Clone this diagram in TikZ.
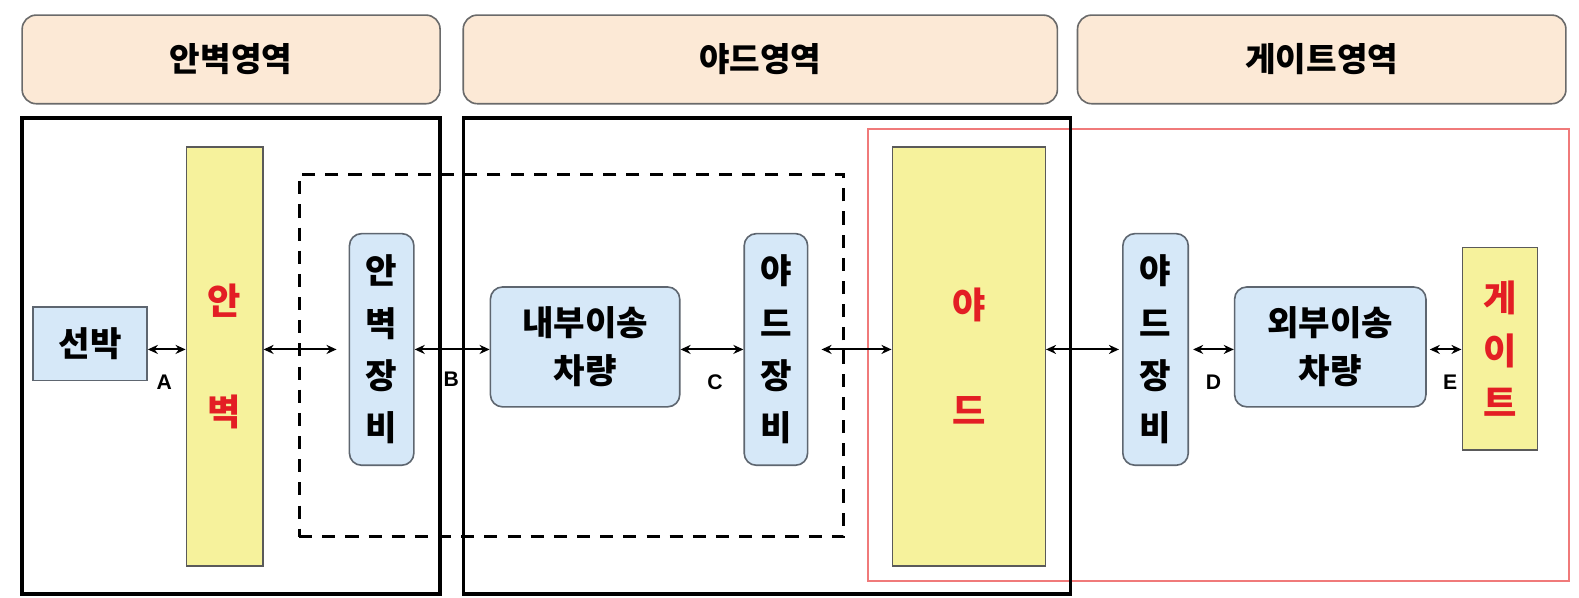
\documentclass[tikz,border=0pt]{standalone}
\usepackage{fontspec}
\newfontfamily\kr{Noto Sans CJK KR}
\newfontfamily\lab{Liberation Sans}
\usetikzlibrary{arrows.meta,calc}
\definecolor{peach}{HTML}{FCE9D6}
\definecolor{peachbd}{HTML}{6A6A6A}
\definecolor{lblue}{HTML}{D6E8F8}
\definecolor{bluebd}{HTML}{5E6670}
\definecolor{yel}{HTML}{F6F29C}
\definecolor{yelbd}{HTML}{5A5A5A}
\definecolor{redtxt}{HTML}{E31E24}
\definecolor{redbox}{HTML}{F07A7A}
\tikzset{
  hdr/.style={draw=peachbd, line width=1.6pt, fill=peach, rounded corners=14pt, inner sep=0pt,
    font=\kr\bfseries\fontsize{33}{36}\selectfont},
  bluebox/.style={draw=bluebd, line width=1.6pt, fill=lblue, rounded corners=12pt, inner sep=0pt, align=center,
    font=\kr\bfseries\fontsize{34}{48}\selectfont},
  vbox/.style={bluebox, font=\kr\bfseries\fontsize{34}{52}\selectfont},
  ybar/.style={draw=yelbd, line width=1.4pt, fill=yel, inner sep=0pt, align=center, text=redtxt},
  region/.style={draw=black, line width=3.4pt, inner sep=0pt},
  dashbox/.style={draw=black, line width=3pt, dash pattern=on 13pt off 10pt, inner sep=0pt},
  redregion/.style={draw=redbox, line width=1.5pt, inner sep=0pt},
  arr/.style={{Stealth[length=10pt,width=9pt]}-{Stealth[length=10pt,width=9pt]}, line width=2pt},
  lbl/.style={font=\lab\bfseries\fontsize{21}{23}\selectfont, inner sep=0pt},
}
\begin{document}
\begin{tikzpicture}[x=1pt,y=-1pt]
\useasboundingbox[fill=white] (0,0) rectangle (1568,593);
% headers
\node[hdr, minimum width=415pt, minimum height=88pt] (h1) at (229.5,59) {안벽영역};
\node[hdr, minimum width=590pt, minimum height=88pt] (h2) at (755,59) {야드영역};
\node[hdr, minimum width=485pt, minimum height=88pt] (h3) at (1312.5,59) {게이트영역};
% regions
\node[redregion, minimum width=696pt, minimum height=449pt] (rr) at (1210,352.5) {};
\node[region, minimum width=415pt, minimum height=473pt] (r1) at (229.5,353.5) {};
\node[region, minimum width=603pt, minimum height=473pt] (r2) at (761.5,353.5) {};
\node[dashbox, minimum width=541pt, minimum height=360pt] (db) at (567.5,353) {};
% main nodes
\node[bluebox, rounded corners=0pt, minimum width=113pt, minimum height=73pt] (ship) at (89.5,341.5) {선박};
\node[ybar, minimum width=76pt, minimum height=416pt, font=\kr\bfseries\fontsize{36}{110}\selectfont] (quay) at (223,354) {안\\벽};
\node[vbox, minimum width=64pt, minimum height=230pt] (qc) at (379,347) {안\\벽\\장\\비};
\node[bluebox, minimum width=188pt, minimum height=119pt] (itv) at (581,344.5) {내부이송\\차량};
\node[vbox, minimum width=63pt, minimum height=230pt] (yc1) at (770.5,347) {야\\드\\장\\비};
\node[ybar, minimum width=152pt, minimum height=416pt, font=\kr\bfseries\fontsize{36}{105}\selectfont] (yard) at (962,354) {야\\드};
\node[vbox, minimum width=65pt, minimum height=230pt] (yc2) at (1147.5,347) {야\\드\\장\\비};
\node[bluebox, minimum width=190pt, minimum height=119pt] (etv) at (1321,344.5) {외부이송\\차량};
\node[ybar, minimum width=75pt, minimum height=201pt, font=\kr\bfseries\fontsize{36}{52}\selectfont] (gate) at (1489.5,346.5) {게\\이\\트};
% arrows
\coordinate (ay) at (0,347);
\draw[arr] (ship.east |- ay) -- (quay.west |- ay);
\draw[arr, shorten >=12pt] (quay.east |- ay) -- (qc.west |- ay);
\draw[arr] (qc.east |- ay) -- (itv.west |- ay);
\draw[arr] (itv.east |- ay) -- (yc1.west |- ay);
\draw[arr, shorten <=13pt] (yc1.east |- ay) -- (yard.west |- ay);
\draw[arr, shorten >=3pt] (yard.east |- ay) -- (yc2.west |- ay);
\draw[arr, shorten <=4pt] (yc2.east |- ay) -- (etv.west |- ay);
\draw[arr, shorten <=3pt] (etv.east |- ay) -- (gate.west |- ay);
% labels
\node[lbl] (la) at (163,380) {A};
\node[lbl] (lb) at (448,377) {B};
\node[lbl] (lc) at (710,380) {C};
\node[lbl] (ld) at (1205,380) {D};
\node[lbl] (le) at (1440,380) {E};
\end{tikzpicture}
\end{document}
